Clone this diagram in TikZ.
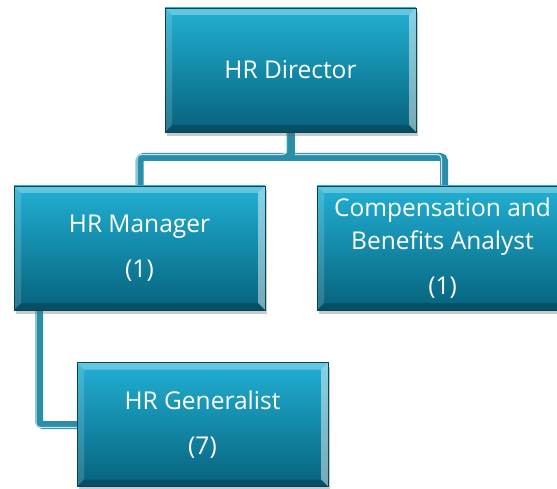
\documentclass[tikz,border=0pt]{standalone}
\usepackage{fontspec}
\setmainfont{Open Sans}
\usetikzlibrary{shadows}
\definecolor{boxtop}{HTML}{22B0D4}
\definecolor{boxbot}{HTML}{06627C}
\definecolor{linkcol}{HTML}{2A8EA8}
\definecolor{linklight}{HTML}{BFE6EF}
\tikzset{
  bevel/.style={path picture={
    \fill[white,opacity=0.30] (path picture bounding box.north west) -- (path picture bounding box.north east)
      -- ([xshift=-7pt,yshift=-7pt]path picture bounding box.north east) -- ([xshift=7pt,yshift=-7pt]path picture bounding box.north west) -- cycle;
    \fill[white,opacity=0.15] (path picture bounding box.north west) -- ([xshift=7pt,yshift=-7pt]path picture bounding box.north west)
      -- ([xshift=7pt,yshift=7pt]path picture bounding box.south west) -- (path picture bounding box.south west) -- cycle;
    \fill[white,opacity=0.45] (path picture bounding box.north east) -- ([xshift=-7pt,yshift=-7pt]path picture bounding box.north east)
      -- ([xshift=-7pt,yshift=7pt]path picture bounding box.south east) -- (path picture bounding box.south east) -- cycle;
    \fill[black,opacity=0.20] (path picture bounding box.south west) -- ([xshift=7pt,yshift=7pt]path picture bounding box.south west)
      -- ([xshift=-7pt,yshift=7pt]path picture bounding box.south east) -- (path picture bounding box.south east) -- cycle;
  }},
  orgbox/.style={rectangle, minimum width=251pt, minimum height=124pt, inner sep=0pt,
    top color=boxtop, bottom color=boxbot, draw=boxbot!70!black, line width=0.4pt,
    drop shadow={shadow xshift=2pt, shadow yshift=-4pt, opacity=0.35, fill=black!60},
    bevel, text=white, align=center, font=\fontsize{24.5}{33}\selectfont},
  link/.style={draw=linkcol, line width=8pt, rounded corners=4pt},
  linkhi/.style={draw=linklight, line width=1.2pt, rounded corners=4pt},
}
\begin{document}
\begin{tikzpicture}[x=1pt,y=-1pt]
\useasboundingbox (0,0) rectangle (557,489);
\begin{scope}
\clip (0,0) rectangle (557,489);
% connectors
\coordinate (hub) at (290.5,157);
\draw[link] (290.5,132) -- (hub);
\draw[link] (139.5,186) |- (hub) -| (444,186);
\draw[link] (39,310) |- (77,425);
\draw[linkhi] (286.5,132) -- (286.5,154.5) -- (137,154.5) -- (137,186);
\draw[linkhi] (294.5,154.5) -- (441.5,154.5) -- (441.5,186);
\draw[linkhi] (36,310) -- (36,427.5) -- (77,427.5);
% boxes
\node[orgbox] (dir) at (290.5,70) {HR Director};
\node[orgbox] (mgr) at (139.5,248) {HR Manager\\[12pt](1)};
\node[orgbox] (cba) at (442.5,248) {Compensation and\\Benefits Analyst\\[12pt](1)};
\node[orgbox] (gen) at (202.5,424.5) {HR Generalist\\[12pt](7)};
\end{scope}
\end{tikzpicture}
\end{document}
